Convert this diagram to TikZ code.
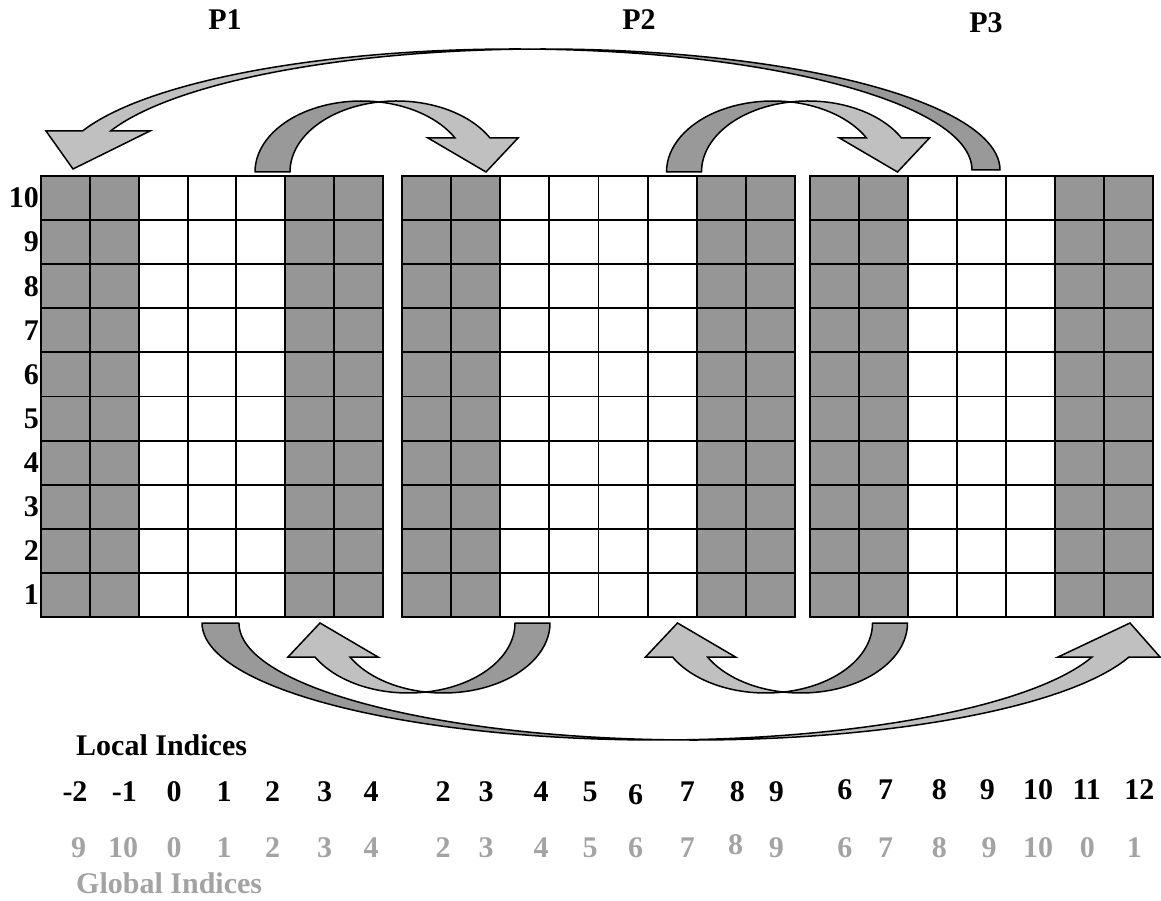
\documentclass[tikz,border=0pt]{standalone}
\usepackage{fontspec}
\setmainfont{Liberation Serif}
\definecolor{cellgray}{RGB}{150,150,150}
\definecolor{darkrib}{RGB}{153,153,153}
\definecolor{lightrib}{RGB}{192,192,192}
\definecolor{gtext}{RGB}{163,163,163}
\tikzset{
  gridline/.style={draw=black,line width=1.9pt,line cap=rect},
  backrib/.style={fill=darkrib,draw=black,line width=1.5pt,line join=round},
  frontrib/.style={fill=lightrib,draw=black,line width=1.5pt,line join=miter},
  lbl/.style={font=\fontsize{30}{36}\selectfont\bfseries,inner sep=0pt},
  glbl/.style={lbl,text=gtext},
}
\begin{document}
\begin{tikzpicture}[x=1pt,y=1pt]
\useasboundingbox (0,0) rectangle (1161,900);
% ---------- grids ----------
% P1
\foreach \i in {0,1,5,6}{\fill[cellgray] ({41+\i*48.857},283) rectangle ({41+(\i+1)*48.857},724);}
\foreach \i in {0,...,7}{\draw[gridline] ({41+\i*48.857},283) -- ({41+\i*48.857},724);}
\foreach \j in {0,...,10}{\draw[gridline] (41,{283+\j*44.1}) -- (383,{283+\j*44.1});}
% P2
\foreach \i in {0,1,6,7}{\fill[cellgray] ({402+\i*49.125},283) rectangle ({402+(\i+1)*49.125},724);}
\foreach \i in {0,...,8}{\draw[gridline] ({402+\i*49.125},283) -- ({402+\i*49.125},724);}
\foreach \j in {0,...,10}{\draw[gridline] (402,{283+\j*44.1}) -- (795,{283+\j*44.1});}
% P3
\foreach \i in {0,1,5,6}{\fill[cellgray] ({810+\i*49},283) rectangle ({810+(\i+1)*49},724);}
\foreach \i in {0,...,7}{\draw[gridline] ({810+\i*49},283) -- ({810+\i*49},724);}
\foreach \j in {0,...,10}{\draw[gridline] (810,{283+\j*44.1}) -- (1153,{283+\j*44.1});}
% ---------- row labels ----------
\foreach \k in {1,...,10}{\node[lbl,anchor=east] (r\k) at (39,{283+(\k-0.5)*44.1}) {\k};}
% ---------- titles ----------
\node[lbl,anchor=base] (p1) at (225,870) {P1};
\node[lbl,anchor=base] (p2) at (639,870) {P2};
\node[lbl,anchor=base] (p3) at (986,867) {P3};
% ---------- top ribbons ----------
% P1 -> P2
\draw[backrib] (255,728) arc[start angle=180,end angle=80.54,x radius=106.5pt,y radius=71pt]
  arc[start angle=99.46,end angle=180,x radius=106.5pt,y radius=71pt] -- cycle;
\draw[frontrib] (455,762) arc[start angle=28.61,end angle=80.54,x radius=106.5pt,y radius=71pt]
  arc[start angle=99.46,end angle=28.61,x radius=106.5pt,y radius=71pt]
  -- (518,762) -- (486,728) -- (428,762) -- cycle;
% P2 -> P3
\begin{scope}[xshift=411.5pt]
\draw[backrib] (255,728) arc[start angle=180,end angle=80.54,x radius=106.5pt,y radius=71pt]
  arc[start angle=99.46,end angle=180,x radius=106.5pt,y radius=71pt] -- cycle;
\draw[frontrib] (455,762) arc[start angle=28.61,end angle=80.54,x radius=106.5pt,y radius=71pt]
  arc[start angle=99.46,end angle=28.61,x radius=106.5pt,y radius=71pt]
  -- (518,762) -- (486,728) -- (428,762) -- cycle;
\end{scope}
% P3 -> P1 (long)
\draw[backrib] (1000,730) arc[start angle=0,end angle=91.76,x radius=456.9pt,y radius=121pt]
  arc[start angle=88.24,end angle=0,x radius=456.9pt,y radius=121pt] -- cycle;
\draw[frontrib] (110.6,769) arc[start angle=161.2,end angle=91.76,x radius=456.9pt,y radius=121pt]
  arc[start angle=88.24,end angle=161.2,x radius=456.9pt,y radius=121pt]
  -- (46,769) -- (73,731) -- (150,769) -- cycle;
% ---------- bottom ribbons ----------
% P1 -> P3 (long)
\draw[backrib] (202,277) arc[start angle=180,end angle=272.33,x radius=454.8pt,y radius=117pt]
  arc[start angle=267.67,end angle=180,x radius=454.8pt,y radius=117pt] -- cycle;
\draw[frontrib] (1092,243) arc[start angle=343.11,end angle=272.33,x radius=454.8pt,y radius=117pt]
  arc[start angle=267.67,end angle=343.11,x radius=454.8pt,y radius=117pt]
  -- (1160,243) -- (1130,277) -- (1058,243) -- cycle;
% P2 -> P1
\draw[backrib] (550,277) arc[start angle=360,end angle=260.56,x radius=106.7pt,y radius=70pt]
  arc[start angle=279.44,end angle=360,x radius=106.7pt,y radius=70pt] -- cycle;
\draw[frontrib] (350,243) arc[start angle=209.06,end angle=260.56,x radius=106.7pt,y radius=70pt]
  arc[start angle=279.44,end angle=209.06,x radius=106.7pt,y radius=70pt]
  -- (288,243) -- (320,277) -- (378,243) -- cycle;
% P3 -> P2
\begin{scope}[xshift=357.5pt]
\draw[backrib] (550,277) arc[start angle=360,end angle=260.56,x radius=106.7pt,y radius=70pt]
  arc[start angle=279.44,end angle=360,x radius=106.7pt,y radius=70pt] -- cycle;
\draw[frontrib] (350,243) arc[start angle=209.06,end angle=260.56,x radius=106.7pt,y radius=70pt]
  arc[start angle=279.44,end angle=209.06,x radius=106.7pt,y radius=70pt]
  -- (288,243) -- (320,277) -- (378,243) -- cycle;
\end{scope}
% ---------- index captions ----------
\node[lbl,anchor=base west] (loc) at (76,145) {Local Indices};
\node[glbl,anchor=base west] (glob) at (76,7) {Global Indices};
% local indices
\foreach \x/\t/\n in {75/-2/a,124.4/-1/b,174/0/c,224/1/d,272.5/2/e,324.5/3/f,371/4/g,
  443/2/h,486/3/i,541/4/j,590/5/k,687.4/7/m,737.4/8/n,776.3/9/o}
  {\node[lbl,anchor=base] (l\n) at (\x,99) {\t};}
\node[lbl,anchor=base] (ll) at (635.5,96) {6};
\foreach \x/\t/\n in {844.8/6/p,885.6/7/q,939.3/8/r,987.4/9/s,1038/10/t,1086.7/11/u,1139.3/12/v}
  {\node[lbl,anchor=base] (l\n) at (\x,101) {\t};}
% global indices
\foreach \x/\t/\n in {78.5/9/a,123/10/b,174/0/c,224/1/d,272.5/2/e,324.5/3/f,371/4/g,
  443/2/h,486/3/i,541/4/j,590/5/k,635.5/6/l,687.4/7/m,776.3/9/o,
  844.8/6/p,885.6/7/q,939.3/8/r,989/9/s,1038/10/t,1087.4/0/u,1134.4/1/v}
  {\node[glbl,anchor=base] (g\n) at (\x,43) {\t};}
\node[glbl,anchor=base] (gn) at (735.6,46) {8};
\end{tikzpicture}
\end{document}
